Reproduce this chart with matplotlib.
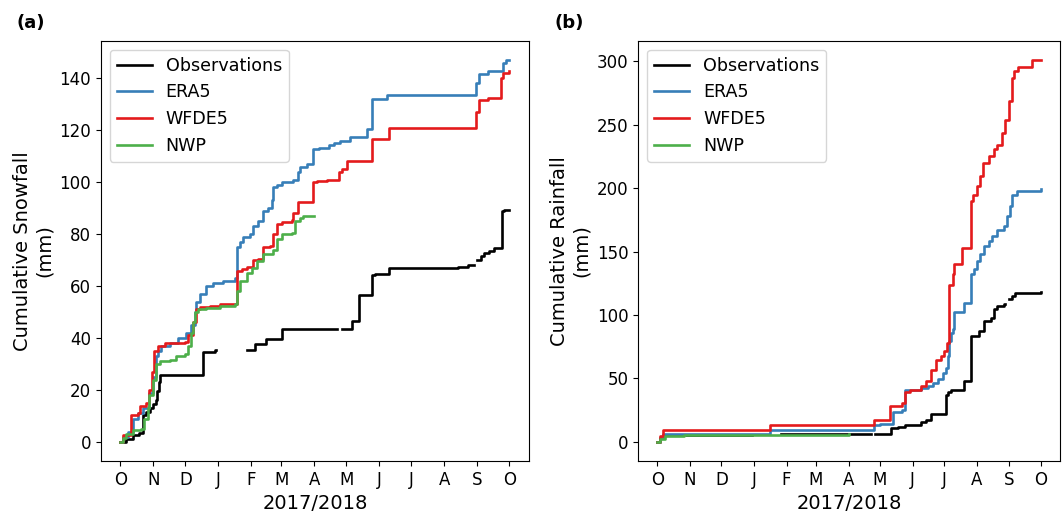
import numpy as np
import pandas as pd
import matplotlib
matplotlib.use("Agg")
import matplotlib.pyplot as plt

START = pd.Timestamp("2017-10-01")
nan = np.nan

# ---------------- Snowfall (days since 2017-10-01, cumulative mm) -------------
obs_snow_days = [0, 5.3, 11.6, 17.9, 21, 24.2, 28, 30.5, 33, 34.2, 35.8, 37.4, 77.6, 88.6, 90.1,
                 118.4, 126.3, 136.3, 152, 203.2, 208, 217.4, 223.6, 236.2, 239.3, 252, 316.3,
                 325.7, 331.4, 334.5, 338.3, 341.4, 346.1, 350.9, 358.1, 360.3, 365]
obs_snow_vals = [0, 1, 2.5, 3.5, 10.5, 11.5, 13, 14.5, 16, 19.5, 23, 25.7, 34.7, 35.3, nan,
                 35.3, 37.7, 39.8, 43.3, nan, 43.3, 46.5, 56.5, 64.4, 64.8, 66.8, 67.3,
                 68.2, nan, 70.2, 71.6, 72.8, 73.5, 74.5, 88.8, 89.4, 89.4]

era5_snow_days = [0, 2.2, 6.9, 11.6, 16.3, 21, 27.3, 30.5, 33.6, 35.2, 38.3, 46.2, 54, 61.9, 66.6,
                  69.7, 71.3, 74.4, 80.7, 87, 96.4, 107.4, 109.6, 112.1, 115.3, 121.6, 124.7,
                  129.4, 134.1, 138.8, 142, 143.5, 146.7, 151.4, 162.4, 167.1, 168.7, 175,
                  181.2, 186, 195.4, 200.1, 206.4, 215.8, 231.5, 236.2, 250.3, 333.6, 336.7,
                  344.6, 358.7, 361.8, 365]
era5_snow_vals = [0, 2, 4, 9, 11, 13, 19, 25, 33, 35, 37, 38, 40, 42, 45, 50, 54, 57, 60, 61, 62,
                  63, 75, 77, 79, 80, 83, 85, 89, 90, 93, 98, 99, 100, 101, 104, 106, 107,
                  112.6, 113, 114.4, 115, 115.8, 117.5, 120.5, 132, 133.4, 138, 141.8,
                  142.6, 146, 147, 147]

wfde5_snow_days = [0, 2.2, 10.4, 16.3, 18.5, 24.2, 27.3, 29.8, 32, 35.2, 41.5, 60.3, 63.5, 68.2,
                   71.3, 74.4, 83.9, 93.3, 109, 113.7, 118.4, 124.7, 129.4, 134.1, 140.4, 143.5,
                   146.7, 151.4, 160.8, 162.4, 167.1, 181.2, 184.4, 193.8, 204.8, 207.9, 212.6,
                   236.2, 252, 333.6, 336.7, 344.6, 357.1, 358.7, 365]
wfde5_snow_vals = [0, 2.5, 10.5, 11, 14, 15, 20, 27, 35, 37, 38, 38.5, 41, 46, 51, 52, 52.5, 53,
                   65.7, 66.5, 67.5, 70, 70.5, 75, 75.5, 80, 84, 84.5, 85.5, 88, 92.5, 100,
                   100.5, 101, 104, 105, 108, 116.5, 121, 127, 131.5, 132.5, 140, 142, 142.7]

nwp_snow_days = [0, 2.2, 5.3, 11.6, 19.5, 22.6, 25.8, 27.3, 30.5, 33.6, 36.8, 46.2, 52.5, 60.3,
                 63.5, 66.6, 68.2, 69.7, 72.9, 80.7, 93.3, 107.4, 109, 112.1, 118.4, 123.1,
                 127.8, 134.1, 143.5, 146.7, 151.4, 160.8, 163.9, 168.7, 171.8, 182]
nwp_snow_vals = [0, 1.5, 3, 4.5, 5, 9, 13, 18, 24, 30, 31, 31.5, 33, 34, 37, 42, 46, 50, 51,
                 51.5, 52.5, 53, 58, 62, 65, 67, 69.5, 72.5, 74, 78, 80, 80.5, 85, 86, 87, 87]

# ---------------- Rainfall ---------------------------------------------------
obs_rain_days = [0, 2.2, 5.3, 90, 118, 203, 207.6, 222.3, 229.2, 235.5, 248, 251.2, 255.9,
                 260.6, 274.8, 276.4, 279.5, 292, 298.3, 306.2, 310.9, 317.2, 320.3, 323.4,
                 329.7, 331.3, 334.4, 337.5, 340.7, 365]
obs_rain_vals = [0, 3, 5.8, nan, 6.2, nan, 6.6, 11, 11.8, 13, 13.7, 15.5, 17.6, 22.3, 37.3, 39,
                 41.3, 47.8, 83.4, 87.3, 95.2, 97.8, 104.4, 107, 108.9, nan, 112.3, 115.4,
                 117.5, 118]

era5_rain_days = [0, 2.2, 5.3, 107.2, 205.8, 212, 224, 232.5, 235.6, 251.2, 257.5, 262.2,
                  266.9, 271.6, 274.8, 276.4, 277.9, 279.5, 281.1, 282.6, 292, 298.3, 301.4,
                  304.5, 307, 310.9, 315.6, 318.7, 323.4, 329.7, 332.8, 336, 337.5, 342.2, 365]
era5_rain_vals = [0, 3, 6.5, 9.2, 13.1, 14, 23.4, 25.5, 41.3, 42.6, 44, 46.5, 49.7, 54.4, 58.4,
                  67.6, 79.4, 86, 89.1, 102.3, 109.6, 132, 136, 142.5, 147.8, 154.4, 158.3,
                  162.2, 167, 170, 178, 186, 194.3, 197.7, 199]

wfde5_rain_days = [0, 2.2, 5.3, 107.2, 205.8, 221.5, 232.5, 235.6, 240.3, 251.2, 255.9, 260.6,
                   265.3, 270, 273.2, 275.7, 277.9, 281.1, 282.6, 290.5, 298.3, 300.8, 304.5,
                   307, 310.2, 315.6, 320.3, 323.4, 328.1, 331.3, 334.4, 337.5, 339.1, 343.8,
                   356.3, 365]
wfde5_rain_vals = [0, 5, 9.5, 13.7, 17.6, 28.7, 30.8, 39.2, 41.3, 44, 47.9, 57, 64.4, 67.6,
                   71.5, 78, 124, 132, 140, 153, 190, 195, 201.7, 209.6, 220, 225.3, 230.6,
                   233.8, 243.8, 254, 268.7, 287, 292.4, 295.8, 301, 301]

nwp_rain_days = [0, 2.2, 6.9, 25.7, 103.7, 182]
nwp_rain_vals = [0, 2, 5, 5.2, 5.8, 6.2]

month_labels = ["O", "N", "D", "J", "F", "M", "A", "M", "J", "J", "A", "S", "O"]
series_names = ["Observations", "ERA5", "WFDE5", "NWP"]
colors = ["black", "#377eb8", "#e41a1c", "#4daf4a"]


def to_dates(days):
    return START + pd.to_timedelta(np.asarray(days, dtype=float), unit="D")


fig = plt.figure(figsize=(10.62, 5.18), dpi=100)
ax1 = fig.add_axes([0.095, 0.110, 0.403, 0.811])
ax2 = fig.add_axes([0.601, 0.110, 0.397, 0.811])

snow = [(obs_snow_days, obs_snow_vals), (era5_snow_days, era5_snow_vals),
        (wfde5_snow_days, wfde5_snow_vals), (nwp_snow_days, nwp_snow_vals)]
rain = [(obs_rain_days, obs_rain_vals), (era5_rain_days, era5_rain_vals),
        (wfde5_rain_days, wfde5_rain_vals), (nwp_rain_days, nwp_rain_vals)]

ticks = pd.date_range("2017-10-01", "2018-10-01", freq="MS")

for ax, data, ylab, yt in [(ax1, snow, "Cumulative Snowfall\n(mm)", np.arange(0, 141, 20)),
                           (ax2, rain, "Cumulative Rainfall\n(mm)", np.arange(0, 301, 50))]:
    for (d, v), name, c in zip(data, series_names, colors):
        ax.step(to_dates(d), v, where="post", color=c, lw=1.9, label=name)
    ax.set_xticks(ticks)
    ax.set_xticklabels(month_labels, fontsize=12)
    ax.set_yticks(yt)
    ax.tick_params(axis="y", labelsize=12)
    ax.set_xlabel("2017/2018", fontsize=14)
    ax.set_ylabel(ylab, fontsize=14)
    ax.legend(loc="upper left", fontsize=12.6)

fig.text(0.016, 0.955, "(a)", fontsize=13, fontweight="bold", ha="left", va="center")
fig.text(0.522, 0.955, "(b)", fontsize=13, fontweight="bold", ha="left", va="center")

fig.savefig("out.png", dpi=100)
